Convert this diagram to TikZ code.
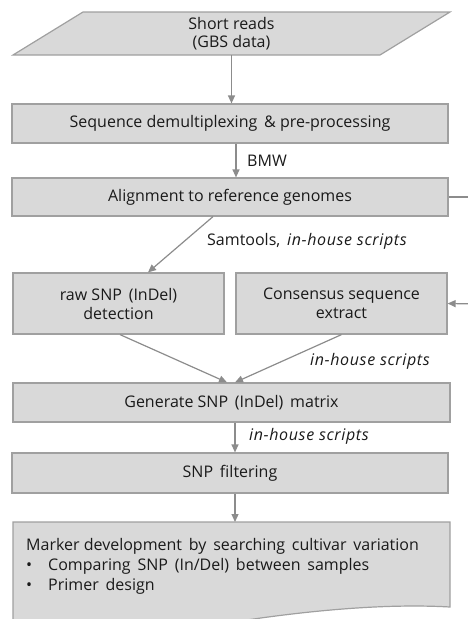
\documentclass[tikz,border=0pt]{standalone}
\usepackage{fontspec}
\setmainfont{Open Sans}
\usetikzlibrary{arrows.meta}
\definecolor{boxfill}{HTML}{D9D9D9}
\definecolor{boxline}{HTML}{A0A0A0}
\definecolor{arrcol}{HTML}{8C8C8C}
\definecolor{txt}{HTML}{1A1A1A}
\newcommand{\ihs}[1]{{\addfontfeatures{LetterSpace=4}\itshape #1}}
\tikzset{
  box/.style={draw=boxline, fill=boxfill, line width=1.2pt, inner sep=0pt, text=txt, align=center, font=\fontsize{16}{19}\selectfont},
  arr/.style={draw=arrcol, line width=1.2pt, -{Triangle[length=8pt,width=7pt]}},
  lbl/.style={anchor=west, text=txt, inner sep=0pt, font=\fontsize{16}{19}\selectfont},
}
\begin{document}
\begin{tikzpicture}[x=1pt,y=-1pt]
\useasboundingbox (0,0) rectangle (468,619);
% input parallelogram
\draw[draw=boxline, fill=boxfill, line width=1.2pt] (83,12) -- (450,12) -- (380,55) -- (13,55) -- cycle;
\node[text=txt, align=center, inner sep=0pt, minimum width=300pt, minimum height=43pt, font=\fontsize{16}{18}\selectfont] (reads) at (231.5,33.5) {Short reads\\(GBS data)};
\node[box, minimum width=436pt, minimum height=39pt] (prep) at (230,123.5) {Sequence demultiplexing \,\& pre-processing};
\node[box, minimum width=436pt, minimum height=38pt] (align) at (230,197) {Alignment to reference genomes};
\node[box, minimum width=211pt, minimum height=61pt] (raw) at (118.5,303.5) {raw SNP \,(InDel)\\detection};
\node[box, minimum width=211pt, minimum height=61pt] (cons) at (341.5,303.5) {Consensus sequence\\extract};
\node[box, minimum width=437pt, minimum height=39pt] (gen) at (231.5,402.5) {Generate SNP \,(InDel) \,matrix};
\node[box, minimum width=436pt, minimum height=40pt] (filt) at (230,473) {SNP \,filtering};
% final document shape
\draw[draw=boxline, fill=boxfill, line width=1.2pt] (13,522) -- (450,522) -- (450,607)
  .. controls (380,603) and (300,612) .. (240,621) .. controls (180,630) and (80,640) .. (13,630) -- cycle;
\coordinate (marker) at (235,522);
\node[lbl, anchor=base west] (m1) at (26,550) {Marker development \,by \,searching \,cultivar \,variation};
\node[lbl, anchor=base west] (b1) at (26,570) {\textbullet};
\node[lbl, anchor=base west] (m2) at (48,570) {Comparing \,SNP \,(In/Del) \,between \,samples};
\node[lbl, anchor=base west] (b2) at (26,590) {\textbullet};
\node[lbl, anchor=base west] (m3) at (48,590) {Primer \,design};
% arrows
\draw[arr] (reads.south) -- (reads.south |- prep.north);
\draw[arr] ([xshift=6pt]prep.south) -- ([xshift=6pt]align.north);
\node[lbl] (bmw) at (247,161) {BMW};
\draw[arr] ([xshift=-17pt]align.south) -- ([xshift=29.5pt]raw.north);
\node[lbl] (sam) at (207,241) {Samtools, \,\ihs{in-house scripts}};
\draw[arr] ([xshift=1.5pt]raw.south) -- ([xshift=-4.5pt]gen.north);
\draw[arr] (cons.south) -- ([xshift=3.5pt]gen.north);
\node[lbl] (ih1) at (310,361) {\ihs{in-house scripts}};
\draw[draw=arrcol, line width=1.2pt] (align.east) -- (480,197) coordinate (r1);
\draw[arr] (r1) -- (480,304) -- (cons.east);
\draw[arr] ([xshift=3.5pt]gen.south) -- ([xshift=5pt]filt.north);
\node[lbl] (ih2) at (249,436) {\ihs{in-house scripts}};
\draw[arr] ([xshift=5pt]filt.south) -- (marker);
\end{tikzpicture}
\end{document}
